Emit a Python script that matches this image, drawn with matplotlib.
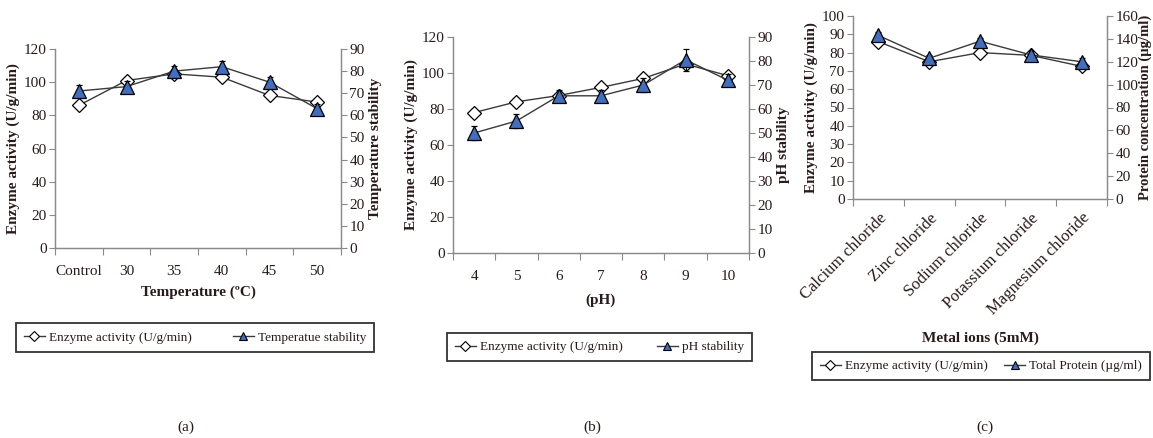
import matplotlib.pyplot as plt
from matplotlib.lines import Line2D

plt.rcParams['font.family'] = ['Liberation Serif', 'DejaVu Serif']

# (a) temperature
temp_labels = ['Control', '30', '35', '40', '45', '50']
temp_activity = [86, 101, 105, 103, 92, 88]
temp_activity_err = [2, 2, 2, 2, 2, 2]
temp_stability = [71, 73, 80, 82, 75, 63]
temp_stability_err = [2.5, 2.5, 2.5, 2.5, 2.5, 2]

# (b) pH
ph_labels = ['4', '5', '6', '7', '8', '9', '10']
ph_activity = [78, 84, 87.5, 92, 97, 105, 98.5]
ph_activity_err = [2, 2, 2, 2, 2, 2, 2]
ph_stability = [50, 55, 65.5, 65.5, 70, 80.5, 72]
ph_stability_err = [3, 3, 2.5, 2.5, 3, 4.5, 2.5]

# (c) metal ions
metal_labels = ['Calcium chloride', 'Zinc chloride', 'Sodium chloride',
                'Potassium chloride', 'Magnesium chloride']
metal_activity = [86, 75, 80, 78.5, 72.5]
metal_activity_err = [1.5, 1.5, 1.5, 1.5, 1.5]
metal_protein = [143, 123, 138, 126, 120]
metal_protein_err = [3, 3, 3, 3, 3]

TXT = '#2a1a1a'
AX = '#8a8a8a'
BLUE = '#3f6fc0'
LINE = '#3a3a3a'


def panel(rect, labels, act, act_err, stab, stab_err, lmax, lstep, rmax, rstep,
          ylab_l, ylab_r, rotate=False):
    ax = fig.add_axes(rect)
    n = len(labels)
    x = list(range(n))
    ax2 = ax.twinx()
    ax.errorbar(x, act, yerr=act_err, color=LINE, lw=1, marker='D', ms=7.5,
                mfc='white', mec='black', mew=0.9, ecolor='black', elinewidth=0.8,
                capsize=2, zorder=3)
    ax2.errorbar(x, stab, yerr=stab_err, color=LINE, lw=1, marker='^', ms=10,
                 mfc=BLUE, mec='black', mew=0.9, ecolor='black', elinewidth=0.8,
                 capsize=2, zorder=3)
    ax.set_xlim(-0.5, n - 0.5)
    ax.set_ylim(0, lmax)
    ax2.set_ylim(0, rmax)
    ax.set_yticks(range(0, lmax + 1, lstep))
    ax2.set_yticks(range(0, rmax + 1, rstep))
    ax.set_xticks([i - 0.5 for i in range(n + 1)])
    ax.set_xticklabels([])
    ax.set_xticks(x, minor=True)
    if rotate:
        ax.set_xticklabels(labels, minor=True, rotation=45, ha='right',
                           rotation_mode='anchor', fontsize=12, color=TXT)
        ax.tick_params(axis='x', which='minor', length=0, pad=8)
    else:
        ax.set_xticklabels(labels, minor=True, fontsize=11, color=TXT)
        ax.tick_params(axis='x', which='minor', length=0, pad=12)
    ax.tick_params(axis='x', which='major', length=5, color=AX, direction='out')
    ax.tick_params(axis='y', length=4, color=AX, labelsize=11, labelcolor=TXT, pad=2)
    ax2.tick_params(axis='y', length=4, color=AX, labelsize=11, labelcolor=TXT, pad=2)
    for a in (ax, ax2):
        a.spines['top'].set_visible(False)
        for s in ('left', 'right', 'bottom'):
            a.spines[s].set_color(AX)
            a.spines[s].set_linewidth(0.9)
    ax.set_ylabel(ylab_l, fontsize=11, fontweight='bold', color=TXT, labelpad=3)
    ax2.set_ylabel(ylab_r, fontsize=11, fontweight='bold', color=TXT, labelpad=3)
    return ax, ax2


def legend(x0, y0, w, h, second):
    handles = [
        Line2D([], [], color=LINE, lw=1, marker='D', ms=5, mfc='white', mec='black', mew=0.8),
        Line2D([], [], color=LINE, lw=1, marker='^', ms=6, mfc=BLUE, mec='black', mew=0.8),
    ]
    leg = fig.legend(handles, ['Enzyme activity (U/g/min)', second], ncol=2,
                     loc='center', bbox_to_anchor=(x0 / 1153, 1 - (y0 + h) / 438,
                                                   w / 1153, h / 438),
                     mode='expand', fontsize=9.5, frameon=True, fancybox=False,
                     handlelength=1.6, handletextpad=0.3, columnspacing=1.2,
                     borderaxespad=0, borderpad=0.6)
    leg.get_frame().set_edgecolor('black')
    leg.get_frame().set_linewidth(1.3)
    for t in leg.get_texts():
        t.set_color(TXT)


fig = plt.figure(figsize=(11.53, 4.38), dpi=100)

ax_a, _ = panel([55 / 1153, 1 - 248 / 438, 286 / 1153, 199 / 438], temp_labels,
                temp_activity, temp_activity_err, temp_stability, temp_stability_err,
                120, 20, 90, 10, 'Enzyme activity (U/g/min)', 'Temperature stability')
ax_a.set_xlabel('Temperature (ºC)', fontsize=11, fontweight='bold', color=TXT, labelpad=6)

ax_b, _ = panel([453 / 1153, 1 - 253 / 438, 296 / 1153, 216 / 438], ph_labels,
                ph_activity, ph_activity_err, ph_stability, ph_stability_err,
                120, 20, 90, 10, 'Enzyme activity (U/g/min)', 'pH stability')
ax_b.set_xlabel('(pH)', fontsize=11, fontweight='bold', color=TXT, labelpad=8)

ax_c, ax_c2 = panel([853 / 1153, 1 - 199 / 438, 254 / 1153, 183 / 438], metal_labels,
                    metal_activity, metal_activity_err, metal_protein, metal_protein_err,
                    100, 10, 160, 20, 'Enzyme activity (U/g/min)',
                    'Protein concentration (µg/ml)', rotate=True)
ax_c2.set_ylabel('Protein concentration (µg/ml)', fontsize=10.5, fontweight='bold',
                 color=TXT, labelpad=0)
fig.text(980 / 1153, 1 - 338 / 438, 'Metal ions (5mM)', ha='center', va='center',
         fontsize=11, fontweight='bold', color=TXT)

legend(16, 322, 358, 31, 'Temperatue stability')
legend(447, 332, 305, 30, 'pH stability')
legend(812, 351, 338, 30, 'Total Protein (µg/ml)')

for xp, lab in [(186, '(a)'), (592, '(b)'), (985, '(c)')]:
    fig.text(xp / 1153, 1 - 427 / 438, lab, ha='center', va='center',
             fontsize=11, color=TXT)

fig.savefig('out.png', dpi=100)
